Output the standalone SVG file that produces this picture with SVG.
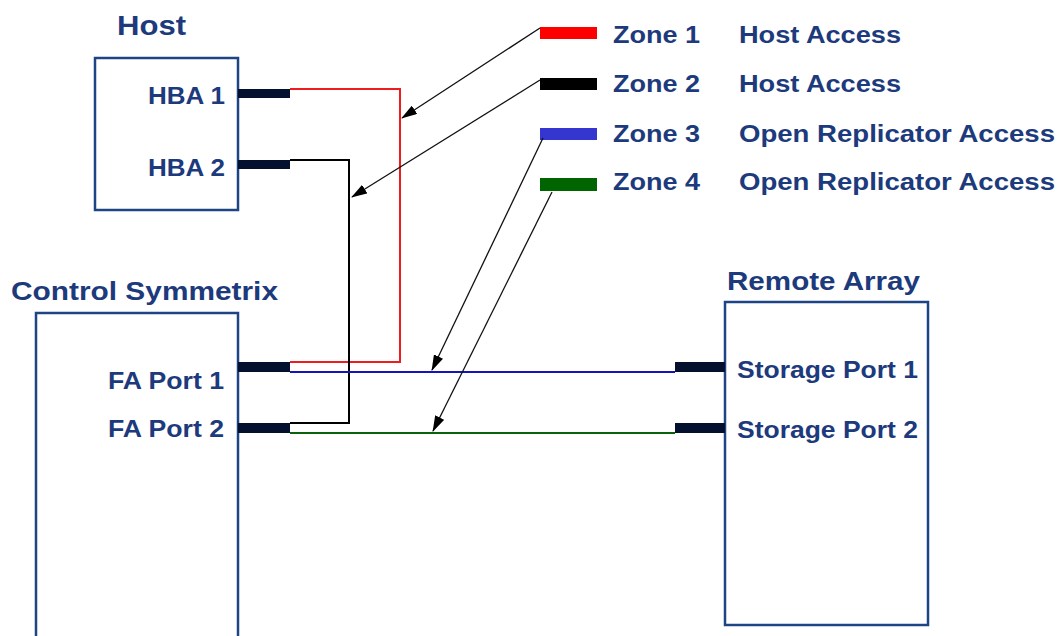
<svg xmlns="http://www.w3.org/2000/svg" width="1057" height="636" viewBox="0 0 1057 636">
<defs>
<style>
.t{font-family:"Liberation Sans",Arial,sans-serif;font-weight:bold;fill:#1c3a7c;}
.box{fill:none;stroke:#1d4585;stroke-width:2.5;}
.port{fill:#03112e;}
.w{fill:none;stroke-width:2;}
.ptr{stroke:#111;stroke-width:1.3;fill:none;marker-end:url(#ah);}
</style>
<marker id="ah" viewBox="0 0 16 10" refX="15" refY="5" markerWidth="16" markerHeight="10" markerUnits="userSpaceOnUse" orient="auto">
<path d="M0,0 L16,5 L0,10 z" fill="#000"/>
</marker>
</defs>
<rect width="1057" height="636" fill="#fff"/>

<g id="host">
<text class="t" x="117" y="35" font-size="27" textLength="69" lengthAdjust="spacingAndGlyphs">Host</text>
<rect class="box" x="95" y="58" width="143" height="152"/>
<text class="t" x="148" y="104" font-size="24" textLength="77" lengthAdjust="spacingAndGlyphs">HBA 1</text>
<text class="t" x="148" y="176" font-size="24" textLength="77" lengthAdjust="spacingAndGlyphs">HBA 2</text>
<rect class="port" x="238" y="89" width="52" height="9"/>
<rect class="port" x="238" y="160" width="52" height="9"/>
</g>

<g id="control-symmetrix">
<text class="t" x="11" y="300" font-size="25" textLength="267" lengthAdjust="spacingAndGlyphs">Control Symmetrix</text>
<rect class="box" x="36" y="313" width="202" height="330"/>
<text class="t" x="108" y="389" font-size="24" textLength="116" lengthAdjust="spacingAndGlyphs">FA Port 1</text>
<text class="t" x="108" y="437" font-size="24" textLength="116" lengthAdjust="spacingAndGlyphs">FA Port 2</text>
<rect class="port" x="238" y="362" width="52" height="10"/>
<rect class="port" x="238" y="423" width="52" height="10"/>
</g>

<g id="remote-array">
<text class="t" x="727" y="290" font-size="25" textLength="193" lengthAdjust="spacingAndGlyphs">Remote Array</text>
<rect class="box" x="725" y="302" width="203" height="323"/>
<text class="t" x="737" y="378" font-size="24" textLength="181" lengthAdjust="spacingAndGlyphs">Storage Port 1</text>
<text class="t" x="737" y="438" font-size="24" textLength="181" lengthAdjust="spacingAndGlyphs">Storage Port 2</text>
<rect class="port" x="675" y="362" width="50" height="10"/>
<rect class="port" x="675" y="423" width="50" height="10"/>
</g>

<g id="legend">
<rect x="540" y="27" width="57" height="12" fill="#ff0000"/>
<rect x="540" y="78" width="57" height="12" fill="#000000"/>
<rect x="540" y="128" width="57" height="12" fill="#3535d0"/>
<rect x="540" y="178" width="57" height="13" fill="#006400"/>
<text class="t" x="613" y="43" font-size="23" textLength="87" lengthAdjust="spacingAndGlyphs">Zone 1</text>
<text class="t" x="613" y="92" font-size="23" textLength="87" lengthAdjust="spacingAndGlyphs">Zone 2</text>
<text class="t" x="613" y="142" font-size="23" textLength="87" lengthAdjust="spacingAndGlyphs">Zone 3</text>
<text class="t" x="613" y="190" font-size="23" textLength="87" lengthAdjust="spacingAndGlyphs">Zone 4</text>
<text class="t" x="739" y="43" font-size="23" textLength="162" lengthAdjust="spacingAndGlyphs">Host Access</text>
<text class="t" x="739" y="92" font-size="23" textLength="162" lengthAdjust="spacingAndGlyphs">Host Access</text>
<text class="t" x="739" y="142" font-size="23" textLength="316" lengthAdjust="spacingAndGlyphs">Open Replicator Access</text>
<text class="t" x="739" y="190" font-size="23" textLength="316" lengthAdjust="spacingAndGlyphs">Open Replicator Access</text>
</g>

<g id="connectors">
<polyline class="w" stroke="#ee1c1c" points="290,89 400,89 400,362 290,362"/>
<polyline class="w" stroke="#000000" points="290,160 349,160 349,423 290,423"/>
<line class="w" stroke="#1414b8" x1="290" y1="372" x2="675" y2="372"/>
<line class="w" stroke="#0a620a" x1="290" y1="433" x2="675" y2="433"/>
<line class="ptr" x1="540" y1="28" x2="402" y2="118"/>
<line class="ptr" x1="540" y1="80" x2="352" y2="197"/>
<line class="ptr" x1="543" y1="138" x2="432" y2="370"/>
<line class="ptr" x1="552" y1="192" x2="433" y2="431"/>
</g>
</svg>
